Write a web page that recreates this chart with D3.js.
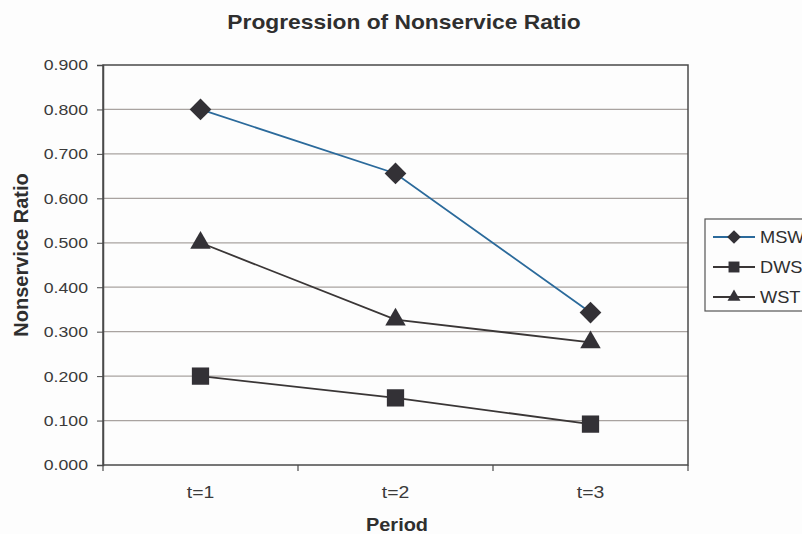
<!DOCTYPE html>
<html><head><meta charset="utf-8">
<script src="https://cdn.jsdelivr.net/npm/d3@7"></script>
<style>body{margin:0;background:#fff}svg{display:block}text{font-family:Arial,"Liberation Sans",sans-serif}</style>
</head><body>
<script>
const categories = ["t=1","t=2","t=3"];
const seriesNames = ["MSW","DWS","WST"];
const mswValues = [0.800, 0.656, 0.343];
const dwsValues = [0.200, 0.151, 0.092];
const wstValues = [0.500, 0.327, 0.276];
const yTicks = [0,0.1,0.2,0.3,0.4,0.5,0.6,0.7,0.8,0.9];
const title = "Progression of Nonservice Ratio";
const xTitle = "Period";
const yTitle = "Nonservice Ratio";

const W=802,H=534;
const L=103,R=688,T=65,B=465;
const SX=1.14;
const svg=d3.select("body").append("svg").attr("width",W).attr("height",H);
svg.append("rect").attr("width",W).attr("height",H).attr("fill","#fdfdfd");

const x=d3.scaleBand().domain(categories).range([L,R]);
const y=d3.scaleLinear().domain([0,0.9]).range([B,T]);

function htext(g,px,py,str,size,anchor,weight){
  return g.append("text").attr("transform",`translate(${px},${py}) scale(${SX},1)`)
    .attr("text-anchor",anchor).attr("font-size",size).attr("font-weight",weight||"normal")
    .attr("fill","#2f2f2f").text(str);
}

// gridlines
svg.append("g").selectAll("line").data(yTicks.filter(d=>d>0&&d<0.9)).join("line")
  .attr("x1",L).attr("x2",R).attr("y1",d=>y(d)).attr("y2",d=>y(d))
  .attr("stroke","#a9a3a0").attr("stroke-width",1.2);

// frame
svg.append("rect").attr("x",L).attr("y",T).attr("width",R-L).attr("height",B-T)
  .attr("fill","none").attr("stroke","#4a4a4a").attr("stroke-width",1.5);

// y axis
const ya=svg.append("g").attr("transform",`translate(${L},0)`)
  .call(d3.axisLeft(y).tickValues(yTicks).tickFormat(d3.format(".3f")).tickSize(6).tickPadding(9));
ya.select(".domain").attr("stroke","#4a4a4a").attr("stroke-width",1.5);
ya.selectAll(".tick line").attr("stroke","#4a4a4a");
ya.selectAll(".tick text").attr("font-size",15.5).attr("fill","#3a3a3a")
  .attr("font-family","Arial, 'Liberation Sans', sans-serif")
  .attr("x",0).attr("transform",`translate(-15,0) scale(${SX},1)`);

// x axis
const xa=svg.append("g").attr("transform",`translate(0,${B})`)
  .call(d3.axisBottom(x).tickSize(0).tickPadding(0));
xa.select(".domain").remove();
xa.selectAll(".tick text").attr("font-size",17).attr("fill","#3a3a3a")
  .attr("font-family","Arial, 'Liberation Sans', sans-serif")
  .attr("y",0).attr("dy",0).attr("transform",`translate(0,33) scale(${SX},1)`);
const bounds=categories.map(c=>x(c)).concat([x(categories[categories.length-1])+x.bandwidth()]);
svg.append("g").selectAll("line").data(bounds).join("line")
  .attr("x1",d=>d).attr("x2",d=>d).attr("y1",B).attr("y2",B+6)
  .attr("stroke","#4a4a4a").attr("stroke-width",1.2);

const cx=c=>x(c)+x.bandwidth()/2;
const series=[
  {name:seriesNames[0],values:mswValues,color:"#2b6a9b",shape:d3.symbolDiamond2,size:300},
  {name:seriesNames[1],values:dwsValues,color:"#3a3636",shape:d3.symbolSquare2,size:380},
  {name:seriesNames[2],values:wstValues,color:"#3a3636",shape:d3.symbolTriangle2,size:300}
];
const line=d3.line().x((d,i)=>cx(categories[i])).y(d=>y(d));
series.forEach(s=>{
  svg.append("path").datum(s.values).attr("d",line).attr("fill","none")
    .attr("stroke",s.color).attr("stroke-width",1.8);
});
series.forEach(s=>{
  svg.append("g").selectAll("path").data(s.values).join("path")
    .attr("transform",(d,i)=>`translate(${cx(categories[i])},${y(d)})`)
    .attr("d",d3.symbol().type(s.shape).size(s.size)).attr("fill","#333136");
});

// titles
htext(svg,404,29,title,20,"middle","bold");
htext(svg,397,531,xTitle,17.5,"middle","bold");
svg.append("text").attr("transform",`translate(28,${(T+B)/2 - 10}) rotate(-90)`).attr("text-anchor","middle")
  .attr("font-size",20).attr("font-weight","bold").attr("fill","#2f2f2f").text(yTitle);

// legend
const lg=svg.append("g");
lg.append("rect").attr("x",705).attr("y",219).attr("width",110).attr("height",92)
  .attr("fill","#fdfdfd").attr("stroke","#555").attr("stroke-width",1.2);
series.forEach((s,i)=>{
  const ly=237+i*30;
  lg.append("line").attr("x1",713).attr("x2",755).attr("y1",ly).attr("y2",ly)
    .attr("stroke",s.color).attr("stroke-width",1.8);
  lg.append("path").attr("transform",`translate(734,${ly})`)
    .attr("d",d3.symbol().type(s.shape).size(s.size*0.4)).attr("fill","#333136");
  htext(lg,760,ly+6,s.name,16,"start","normal");
});
</script>
</body></html>
